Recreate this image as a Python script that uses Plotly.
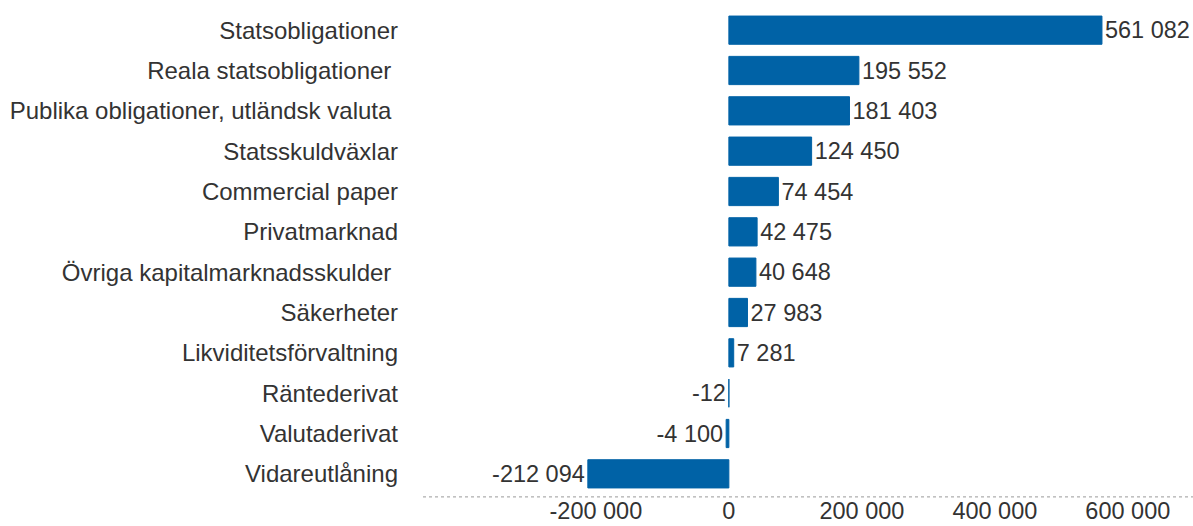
import plotly.graph_objects as go

BAR = "#0062A6"
TEXT = "#333333"
FONT = "Liberation Sans, Arial, sans-serif"

categories = [
    "Statsobligationer",
    "Reala statsobligationer\u00a0",
    "Publika obligationer, utländsk valuta\u00a0",
    "Statsskuldväxlar",
    "Commercial paper",
    "Privatmarknad",
    "Övriga kapitalmarknadsskulder\u00a0",
    "Säkerheter",
    "Likviditetsförvaltning",
    "Räntederivat",
    "Valutaderivat",
    "Vidareutlåning",
]
values = [561082, 195552, 181403, 124450, 74454, 42475, 40648, 27983, 7281, -12, -4100, -212094]
tick_vals = [-200000, 0, 200000, 400000, 600000]
tick_text = [f"{v:,}".replace(",", " ") for v in tick_vals]

fig = go.Figure(go.Bar(
    x=values, y=categories, orientation="h",
    marker=dict(color=BAR, line=dict(color=BAR, width=1)),
    texttemplate="%{x:,}", textposition="outside",
    textfont=dict(color=TEXT, size=23.5, family=FONT),
    cliponaxis=False,
))

fig.update_layout(
    width=1193, height=526,
    paper_bgcolor="white", plot_bgcolor="white",
    font=dict(family=FONT, color=TEXT, size=23.5),
    separators=", ",
    margin=dict(l=423, r=0, t=10, b=32),
    bargap=0.3,
    showlegend=False,
    xaxis=dict(range=[-460000, 698000], tickvals=tick_vals, ticktext=tick_text,
               showgrid=False, zeroline=False, showline=False, ticks="",
               tickfont=dict(size=23.5, color=TEXT), automargin=False),
    yaxis=dict(autorange="reversed", showgrid=False, zeroline=False,
               ticks="", ticklabelstandoff=24, automargin=False,
               tickfont=dict(size=24, color=TEXT)),
)
# dotted axis line along the bottom
fig.add_shape(type="line", xref="paper", yref="paper", x0=0, x1=1, y0=-0.006, y1=-0.006,
              line=dict(color="#999999", width=1, dash="dot"))

# drop the default page margin so the figure fills the window exactly
fig.write_html("out.html", config={"displayModeBar": False}, post_script=(
    "document.body.style.margin='0';"
    "document.documentElement.style.overflow='hidden';"))
